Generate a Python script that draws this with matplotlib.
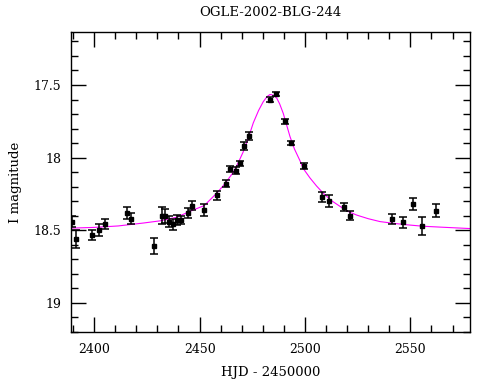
import matplotlib
matplotlib.use("Agg")
import matplotlib.pyplot as plt
from matplotlib.ticker import MultipleLocator

# Observed data (HJD - 2450000, I magnitude, error)
hjd = [2389.3, 2391.2, 2399.2, 2402.4, 2405.2, 2415.4, 2417.4, 2428.2, 2432.1, 2433.4,
       2435.5, 2437.5, 2439.3, 2441.3, 2444.3, 2446.4, 2452.3, 2458.4, 2462.4, 2464.4,
       2467.3, 2469.2, 2471.2, 2473.3, 2483.2, 2486.2, 2490.4, 2493.4, 2499.5, 2508.2,
       2511.4, 2518.4, 2521.4, 2541.1, 2546.5, 2551.3, 2555.5, 2562.3]
mag = [18.44, 18.56, 18.53, 18.50, 18.455, 18.38, 18.42, 18.61, 18.40, 18.40,
       18.44, 18.46, 18.43, 18.43, 18.38, 18.33, 18.36, 18.26, 18.18, 18.08,
       18.09, 18.04, 17.92, 17.85, 17.60, 17.56, 17.75, 17.90, 18.06, 18.27,
       18.30, 18.34, 18.40, 18.42, 18.445, 18.32, 18.47, 18.365]
err = [0.04, 0.06, 0.035, 0.04, 0.035, 0.04, 0.04, 0.055, 0.06, 0.05,
       0.04, 0.04, 0.035, 0.03, 0.035, 0.03, 0.04, 0.03, 0.025, 0.02,
       0.025, 0.02, 0.025, 0.03, 0.015, 0.015, 0.015, 0.015, 0.02, 0.035,
       0.04, 0.03, 0.03, 0.035, 0.04, 0.04, 0.06, 0.045]

# Model curve
model_t = [2389, 2400, 2411.4, 2423.3, 2431.2, 2439.1, 2447.0, 2452.2, 2458.1, 2462.0,
           2466.0, 2468.5, 2470.7, 2473.0, 2475.5, 2478.0, 2480.2, 2482.0, 2483.4, 2485.0,
           2486.6, 2488.0, 2489.7, 2491.2, 2492.9, 2495.0, 2497.6, 2499.2, 2502.4, 2505.5,
           2508.7, 2512.5, 2516.6, 2520.5, 2524.5, 2530.0, 2535.6, 2542.0, 2548.3, 2556.0,
           2564.1, 2578.3]
model_mag = [18.485, 18.48, 18.47, 18.45, 18.435, 18.41, 18.36, 18.33, 18.245, 18.18,
             18.10, 18.03, 17.96, 17.87, 17.76, 17.675, 17.615, 17.58, 17.565, 17.57,
             17.59, 17.63, 17.695, 17.77, 17.855, 17.94, 18.02, 18.075, 18.14, 18.195,
             18.245, 18.295, 18.335, 18.37, 18.395, 18.42, 18.44, 18.452, 18.462, 18.472,
             18.478, 18.488]

xticks = [2400, 2450, 2500, 2550]
yticks = [17.5, 18, 18.5, 19]
ytick_labels = ["17.5", "18", "18.5", "19"]

plt.rcParams['font.family'] = ['DejaVu Serif']

fig = plt.figure(figsize=(4.9, 3.8), dpi=100)
ax = fig.add_axes([71/490, 1 - 332/380, 399/490, 300/380])

ax.plot(model_t, model_mag, color='#ff00ff', lw=0.8, zorder=2)
ax.errorbar(hjd, mag, yerr=err, fmt='s', color='black', ms=2.8, elinewidth=1.1,
            capsize=2.6, capthick=1.1, zorder=3)

ax.set_xlim(2389.0, 2578.3)
ax.set_ylim(19.2, 17.135)

ax.set_xticks(xticks)
ax.set_xticklabels([str(t) for t in xticks])
ax.set_yticks(yticks)
ax.set_yticklabels(ytick_labels)
ax.xaxis.set_minor_locator(MultipleLocator(10))
ax.yaxis.set_minor_locator(MultipleLocator(0.1))
ax.tick_params(which='both', direction='in', top=True, right=True, width=1.0,
               labelsize=9)
ax.tick_params(which='major', length=10.5)
ax.tick_params(which='minor', length=5.2)
ax.tick_params(axis='x', which='major', pad=8)
ax.tick_params(axis='y', which='major', pad=7)
for s in ax.spines.values():
    s.set_linewidth(1.0)

ax.set_xlabel("HJD - 2450000", fontsize=9.5, labelpad=7)
ax.set_ylabel("I magnitude", fontsize=9.5, labelpad=8)
fig.text(270/490, 1 - 12/380, "OGLE-2002-BLG-244", ha='center', va='center',
         fontsize=9.5)

fig.savefig("out.png", dpi=100)
